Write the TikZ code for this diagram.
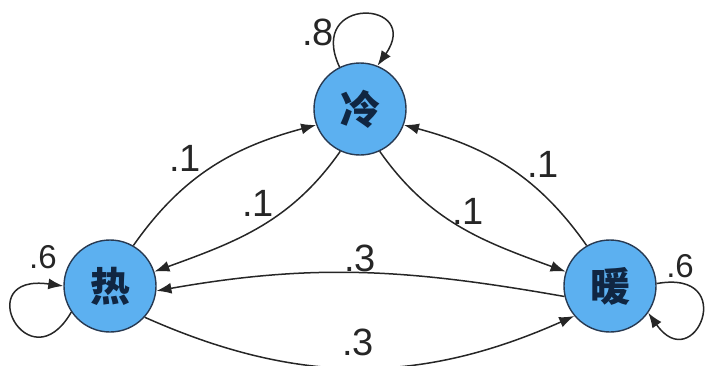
\documentclass[tikz,border=0pt]{standalone}
\usepackage{fontspec}
\setmainfont{Liberation Sans}
\newfontfamily\cjk{Noto Sans CJK SC}
\usetikzlibrary{arrows.meta}
\definecolor{stfill}{RGB}{92,176,240}
\definecolor{stline}{RGB}{40,58,82}
\definecolor{sttext}{RGB}{16,38,66}
\tikzset{
  state/.style={circle, draw=stline, line width=1.4pt, fill=stfill, minimum size=92pt, inner sep=0pt,
    font=\cjk\bfseries\fontsize{40}{40}\selectfont, text=sttext},
  edge/.style={line width=1.5pt, draw=black!85, -{Latex[length=15pt,width=11pt]}},
  lab/.style={inner sep=0pt, font=\fontsize{38}{38}\selectfont, text=black!85},
  labs/.style={inner sep=0pt, font=\fontsize{33}{33}\selectfont, text=black!85}
}
\begin{document}
\begin{tikzpicture}[x=1pt,y=1pt]
\useasboundingbox (0,0) rectangle (706,365);
\node[state] (re) at (110,79) {热};
\node[state] (leng) at (360,256) {冷};
\node[state] (nuan) at (610,79) {暖};

\draw[edge] (re.60) to[out=55,in=195] (leng.200);
\draw[edge] (leng.245) to[out=235,in=20] (re.18);
\draw[edge] (leng.295) to[out=305,in=160] (nuan.162);
\draw[edge] (nuan.120) to[out=125,in=345] (leng.340);
\draw[edge] (nuan.193) to[out=170,in=10] (re.354);
\draw[edge] (re.318) to[out=-24,in=204] (nuan.220);

\draw[edge] (leng.116) .. controls +(115:80) and +(55:80) .. (leng.68);
\draw[edge] (re.214) .. controls +(240:85) and +(172:95) .. (re.180);
\draw[edge] (nuan.3) .. controls +(10:85) and +(-55:80) .. (nuan.-35);

\node[lab] (l1) at (185,207) {.1};
\node[lab] (l2) at (258,162) {.1};
\node[lab] (l3) at (468,154) {.1};
\node[lab] (l4) at (543,201) {.1};
\node[lab] (l5) at (360,107) {.3};
\node[lab] (l6) at (358,23) {.3};
\node[lab] (l7) at (318,333) {.8};
\node[labs] (l8) at (43,108) {.6};
\node[labs] (l9) at (680,99) {.6};
\end{tikzpicture}
\end{document}
